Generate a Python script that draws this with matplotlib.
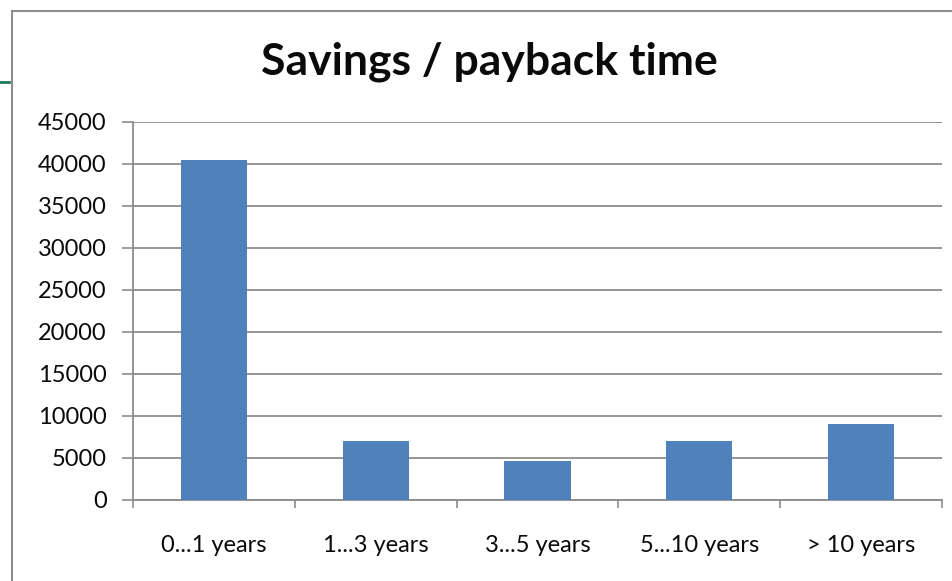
import numpy as np
import matplotlib.pyplot as plt
from matplotlib.lines import Line2D

# 数据
categories = ['0...1 years', '1...3 years', '3...5 years', '5...10 years', '> 10 years']
savings = [40500, 7000, 4600, 7000, 9000]
yticks = [0, 5000, 10000, 15000, 20000, 25000, 30000, 35000, 40000, 45000]

plt.rcParams['font.family'] = ['Lato', 'DejaVu Sans']

fig = plt.figure(figsize=(9.52, 5.81), dpi=100)
ax = fig.add_axes([133 / 952, 1 - 500 / 581, (942 - 133) / 952, (500 - 122) / 581])

x = np.arange(len(categories))
ax.bar(x, savings, width=0.41, color='#4f81bd', zorder=3)

ax.set_xlim(-0.5, len(categories) - 0.5)
ax.set_ylim(0, 45000)
ax.set_yticks(yticks)
ax.set_yticklabels([str(v) for v in yticks], fontsize=17, color='#0a0a0a')
ax.yaxis.grid(True, color='#8c8c8c', linewidth=1.3, zorder=0)

# x 轴刻度在类别边界上，标签放在中间
ax.set_xticks(np.arange(len(categories) + 1) - 0.5)
ax.set_xticklabels([])
ax.set_xticks(x, minor=True)
ax.set_xticklabels(categories, minor=True, fontsize=17, color='#0a0a0a')
ax.tick_params(axis='x', which='minor', length=0, pad=25)
ax.tick_params(axis='x', which='major', length=6, width=1.2, color='#8c8c8c', direction='out')
ax.tick_params(axis='y', length=8, width=1.2, color='#8c8c8c', direction='out', pad=11)

for side in ['top', 'right']:
    ax.spines[side].set_visible(False)
ax.spines['left'].set_color('#8c8c8c')
ax.spines['left'].set_linewidth(1.3)
ax.spines['bottom'].set_color('#8c8c8c')
ax.spines['bottom'].set_linewidth(1.3)

fig.text(489 / 952, 1 - 62 / 581, 'Savings / payback time', ha='center', va='center',
         fontsize=32, fontweight='bold', color='#0a0a0a')

# 图表外框和左侧绿色线
fig.add_artist(Line2D([12 / 952, 1.0], [1 - 11 / 581, 1 - 11 / 581], color='#8c8c8c', linewidth=1.5))
fig.add_artist(Line2D([12 / 952, 12 / 952], [1 - 11 / 581, 0.0], color='#8c8c8c', linewidth=1.5))
fig.add_artist(Line2D([0.0, 9 / 952], [1 - 82 / 581, 1 - 82 / 581], color='#1e7a5c', linewidth=2))

fig.savefig('out.png', dpi=100)
